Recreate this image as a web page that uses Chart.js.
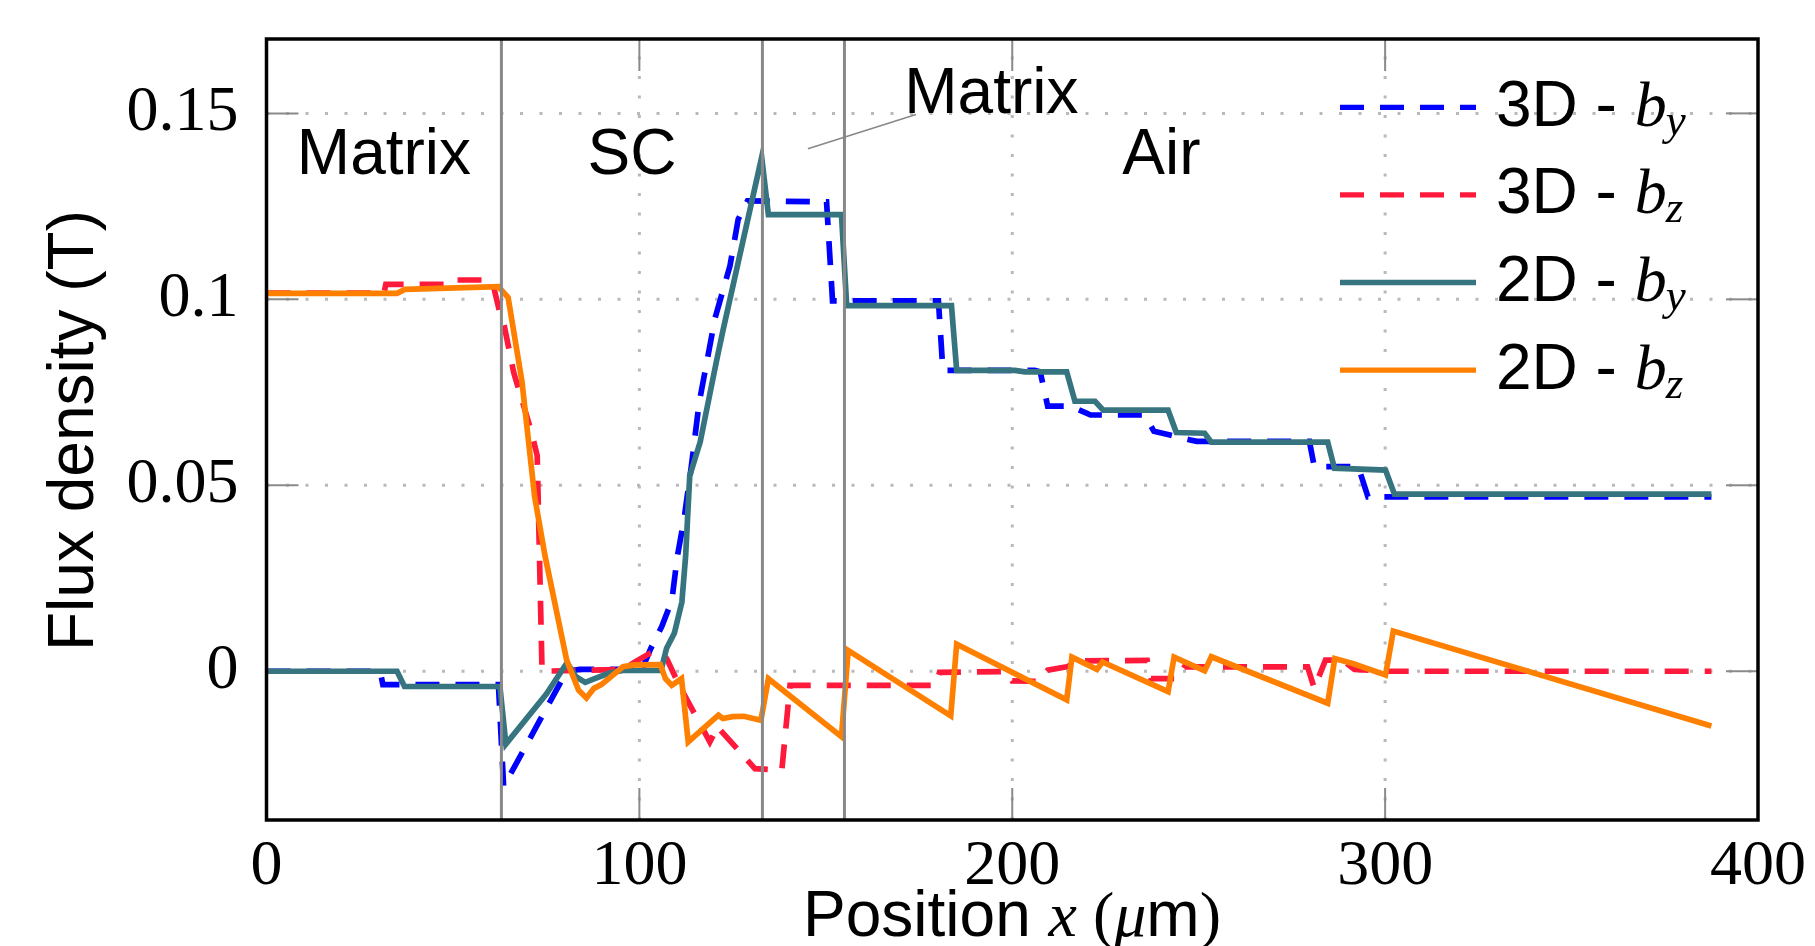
<!DOCTYPE html>
<html>
<head>
<meta charset="utf-8">
<title>Flux density</title>
<script src="https://cdn.jsdelivr.net/npm/chart.js@4.4.0/dist/chart.umd.min.js"></script>
<style>
  html, body { margin: 0; padding: 0; background: #fff; }
  #wrap { width: 1815px; height: 946px; }
</style>
</head>
<body>
<div id="wrap"><canvas id="flux"></canvas></div>
<script>
'use strict';

// axes
const xTicks = [0, 100, 200, 300, 400];
const yTicks = [0, 0.05, 0.1, 0.15];
const yTickLabels = ['0', '0.05', '0.1', '0.15'];

// material boundaries along x (um)
const boundaries = [63, 133, 155];

// 3D - b_y
const by3dX = [0, 30.5, 31.2, 62.2, 63.6, 80.5, 84, 98, 100, 103, 106, 108.7, 110.2, 112, 114, 116, 120.3, 124.3, 126.5, 129, 150.2, 151.8, 180.2, 181.4, 206, 207.5, 209.5, 215.5, 219.9, 221, 235.5, 238, 242.3, 247.7, 249.5, 279.7, 281, 292.8, 295.4, 387.5];
const by3dY = [0, 0, -0.0036, -0.0036, -0.031, 0, 0.0005, 0.0005, -0.0012, 0.006, 0.012, 0.019, 0.031, 0.041, 0.0556, 0.072, 0.095, 0.109, 0.1215, 0.1265, 0.1262, 0.0996, 0.0996, 0.0809, 0.0809, 0.0805, 0.0713, 0.0713, 0.0694, 0.0689, 0.0689, 0.0645, 0.0635, 0.0622, 0.0618, 0.0618, 0.055, 0.055, 0.0469, 0.0469];

// 3D - b_z
const bz3dX = [0, 31.5, 32, 49.5, 50.5, 60, 61, 62.6, 63.7, 66.3, 70.9, 72.6, 73.9, 96, 98.3, 102.8, 105, 107.3, 110.9, 118.9, 120.3, 120.8, 131, 138.2, 140.4, 179.5, 180.5, 198.5, 200, 207, 209.5, 214.6, 218.5, 236.2, 237.2, 244.5, 246.2, 279.2, 281, 284, 288.5, 291.8, 300, 387.5];
const bz3dY = [0.1017, 0.1017, 0.104, 0.104, 0.1052, 0.1052, 0.103, 0.0963, 0.0932, 0.0803, 0.0649, 0.058, 0, 0.0005, 0.0022, 0.0048, 0.0055, 0.0034, -0.0042, -0.019, -0.0163, -0.0148, -0.0262, -0.0266, -0.0038, -0.0038, -0.0003, -0.0001, -0.0026, -0.0027, 0.0003, 0.0012, 0.0028, 0.0029, -0.002, -0.002, 0.0012, 0.0012, -0.0046, 0.003, 0.003, 0.0005, 0, 0];

// 2D - b_y
const by2dX = [0, 35, 37, 62.6, 64.2, 75, 80.6, 83, 85.5, 88, 92, 95.5, 105.8, 107.3, 109.4, 111.4, 112.4, 113.5, 116.3, 120.7, 122.5, 132.8, 134.6, 154.2, 155.6, 183.7, 185.1, 200.7, 203.4, 214.6, 216.8, 222.2, 224.4, 241.8, 244, 251.6, 253.4, 284.6, 286.4, 300.1, 302.5, 387.5];
const by2dY = [0, 0, -0.0041, -0.0041, -0.0196, -0.0062, 0.0023, -0.0015, -0.003, -0.002, -0.0005, 0.0002, 0.0002, 0.0062, 0.0103, 0.0186, 0.0309, 0.0525, 0.0616, 0.0835, 0.092, 0.1382, 0.1228, 0.1228, 0.0983, 0.0983, 0.0809, 0.0809, 0.0805, 0.0805, 0.0726, 0.0726, 0.0702, 0.0702, 0.0642, 0.064, 0.0616, 0.0616, 0.0546, 0.0541, 0.0476, 0.0476];

// 2D - b_z
const bz2dX = [0, 35, 37.2, 62.2, 64.8, 68.5, 71.9, 74.7, 80.5, 83.7, 85.8, 87.8, 89.8, 95.6, 98.6, 105.6, 107, 108.7, 111.3, 113.1, 117.1, 121.2, 122.4, 125, 128, 132.6, 134.6, 154.2, 156, 183.5, 185.1, 214.6, 216, 222.7, 224.2, 241.8, 243.4, 251.6, 253.4, 284.6, 286.5, 291.5, 300.1, 302.2, 387.5];
const bz2dY = [0.1016, 0.1016, 0.1027, 0.1034, 0.1005, 0.078, 0.047, 0.031, 0.003, -0.0051, -0.0072, -0.0046, -0.0036, 0.0012, 0.0017, 0.0018, -0.002, -0.0038, -0.002, -0.019, -0.0154, -0.0118, -0.0127, -0.0122, -0.0121, -0.0132, -0.002, -0.0176, 0.0056, -0.012, 0.0073, -0.0077, 0.0038, 0.0005, 0.0025, -0.0055, 0.0038, 0.0001, 0.0039, -0.0086, 0.0034, 0.002, -0.001, 0.0108, -0.0147];

const seriesDims = ['3D', '3D', '2D', '2D'];
const seriesComps = ['y', 'z', 'y', 'z'];

const SANS = '"Liberation Sans", Arial, sans-serif';
const SERIF = '"Liberation Serif", "Times New Roman", serif';

const toPoints = (xs, ys) => xs.map((x, i) => ({ x: x, y: ys[i] }));

const makeSet = function(label, xs, ys, color, dashed, order) {
    return {
        label: label,
        data: toPoints(xs, ys),
        borderColor: color,
        borderWidth: 5.7,
        borderDash: dashed ? [24, 16] : [],
        pointRadius: 0,
        tension: 0,
        fill: false,
        order: order
    };
};

const line = function(ctx, x1, y1, x2, y2) {
    ctx.beginPath();
    ctx.moveTo(x1, y1);
    ctx.lineTo(x2, y2);
    ctx.stroke();
};

// grid, tick marks, frame, region labels, legend and axis titles
const decorations = {
    id: 'decorations',
    beforeDatasetsDraw(chart) {
        const { ctx, chartArea: a, scales: { x, y } } = chart;
        ctx.save();
        ctx.lineWidth = 3;
        ctx.strokeStyle = '#b9b9b9';
        ctx.setLineDash([3, 16.5]);
        x.ticks.forEach(t => {
            if (t.value <= x.min || t.value >= x.max) return;
            const px = x.getPixelForValue(t.value);
            line(ctx, px, a.bottom, px, a.top);
        });
        y.ticks.forEach(t => {
            const py = y.getPixelForValue(t.value);
            line(ctx, a.left, py, a.right, py);
        });

        // inner ticks on all four sides
        ctx.setLineDash([]);
        ctx.lineWidth = 2;
        ctx.strokeStyle = '#8a8a8a';
        const len = 32;
        x.ticks.forEach(t => {
            const px = x.getPixelForValue(t.value);
            line(ctx, px, a.bottom, px, a.bottom - len);
            line(ctx, px, a.top, px, a.top + len);
        });
        y.ticks.forEach(t => {
            const py = y.getPixelForValue(t.value);
            line(ctx, a.left, py, a.left + len, py);
            line(ctx, a.right, py, a.right - len, py);
        });
        ctx.restore();
    },
    afterDatasetsDraw(chart) {
        const { ctx, chartArea: a, scales: { x, y } } = chart;
        ctx.save();

        // boundaries between matrix, SC and air
        ctx.strokeStyle = '#888888';
        ctx.lineWidth = 3;
        boundaries.forEach(b => {
            const px = x.getPixelForValue(b);
            line(ctx, px, a.top, px, a.bottom);
        });

        // frame
        ctx.strokeStyle = '#000';
        ctx.lineWidth = 3.5;
        ctx.strokeRect(a.left, a.top, a.right - a.left, a.bottom - a.top);

        // region names
        ctx.fillStyle = '#000';
        ctx.font = '64px ' + SANS;
        ctx.textAlign = 'center';
        ctx.textBaseline = 'alphabetic';
        ctx.fillText('Matrix', x.getPixelForValue(31.5), y.getPixelForValue(0.1338));
        ctx.fillText('SC', x.getPixelForValue(98), y.getPixelForValue(0.1338));
        ctx.fillText('Air', x.getPixelForValue(240), y.getPixelForValue(0.1338));
        ctx.fillText('Matrix', x.getPixelForValue(194.4), y.getPixelForValue(0.1502));

        // pointer from the thin matrix label
        ctx.strokeStyle = '#888888';
        ctx.lineWidth = 1.6;
        line(ctx, x.getPixelForValue(145.2), y.getPixelForValue(0.1405),
             x.getPixelForValue(174.2), y.getPixelForValue(0.1497));

        // legend
        ctx.textAlign = 'left';
        chart.data.datasets.forEach((ds, i) => {
            const cy = 107.3 + 87.6 * i;
            const base = 125.7 + 87.6 * i;
            ctx.strokeStyle = ds.borderColor;
            ctx.lineWidth = 5.3;
            ctx.setLineDash(ds.borderDash);
            line(ctx, 1340, cy, 1476, cy);
            ctx.setLineDash([]);

            let cx = 1496;
            ctx.font = '64px ' + SANS;
            const head = seriesDims[i] + ' - ';
            ctx.fillText(head, cx, base);
            cx += ctx.measureText(head).width;
            ctx.font = 'italic 64px ' + SERIF;
            ctx.fillText('b', cx, base);
            cx += ctx.measureText('b').width;
            ctx.font = 'italic 45px ' + SERIF;
            ctx.fillText(seriesComps[i], cx - 1, base + 9);
        });

        // y title
        ctx.save();
        ctx.translate(92.7, 430.5);
        ctx.rotate(-Math.PI / 2);
        ctx.textAlign = 'center';
        ctx.font = '64px ' + SANS;
        ctx.fillText('Flux density (T)', 0, 0);
        ctx.restore();

        // x title, mixed text and math fonts
        const parts = [
            ['Position ', '64px ' + SANS],
            ['x', 'italic 64px ' + SERIF],
            [' (', '64px ' + SERIF],
            ['\u03bc', 'italic 64px ' + SERIF],
            ['m', '64px ' + SANS],
            [')', '64px ' + SERIF]
        ];
        let total = 0;
        parts.forEach(p => { ctx.font = p[1]; total += ctx.measureText(p[0]).width; });
        let tx = 1012 - total / 2;
        ctx.textAlign = 'left';
        parts.forEach(p => {
            ctx.font = p[1];
            ctx.fillText(p[0], tx, 936);
            tx += ctx.measureText(p[0]).width;
        });

        ctx.restore();
    }
};

const ctx = document.getElementById('flux');

new Chart(ctx, {
    type: 'line',
    data: {
        datasets: [
            makeSet('3D - by', by3dX, by3dY, '#0000ff', true, 3),
            makeSet('3D - bz', bz3dX, bz3dY, '#ff1a3c', true, 2),
            makeSet('2D - by', by2dX, by2dY, '#367580', false, 1),
            makeSet('2D - bz', bz2dX, bz2dY, '#ff8000', false, 0)
        ]
    },
    options: {
        responsive: true,
        maintainAspectRatio: false,
        devicePixelRatio: 1,
        animation: false,
        layout: { padding: { left: 0, top: 39, right: 57, bottom: 0 } },
        plugins: {
            legend: { display: false },
            tooltip: { enabled: false }
        },
        scales: {
            x: {
                type: 'linear',
                min: 0,
                max: 400,
                afterBuildTicks: axis => { axis.ticks = xTicks.map(v => ({ value: v })); },
                afterFit: axis => {
                    axis.height = 126;
                    axis.paddingLeft = 0;
                    axis.paddingRight = 0;
                },
                grid: { display: false, drawTicks: false },
                border: { display: false },
                ticks: {
                    padding: 9,
                    maxRotation: 0,
                    color: '#000',
                    font: { family: SERIF, size: 64 },
                    callback: v => String(v)
                }
            },
            y: {
                type: 'linear',
                min: -0.04,
                max: 0.17,
                afterBuildTicks: axis => { axis.ticks = yTicks.map(v => ({ value: v })); },
                afterFit: axis => {
                    axis.width = 266.5;
                    axis.paddingTop = 0;
                    axis.paddingBottom = 0;
                },
                grid: { display: false, drawTicks: false },
                border: { display: false },
                ticks: {
                    padding: 28,
                    color: '#000',
                    font: { family: SERIF, size: 64 },
                    callback: v => yTickLabels[yTicks.indexOf(v)] ?? ''
                }
            }
        }
    },
    plugins: [decorations]
});
</script>
</body>
</html>
